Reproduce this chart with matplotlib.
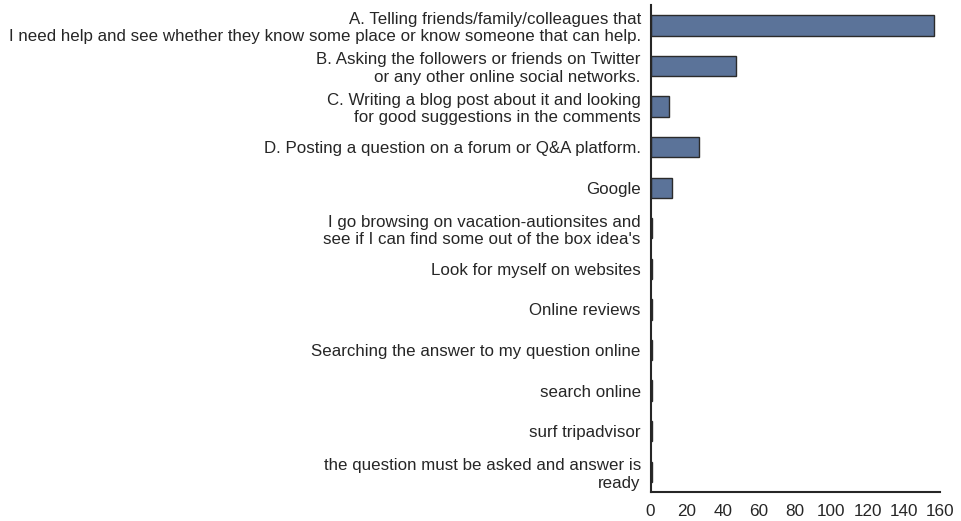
import matplotlib
matplotlib.use("Agg")
import matplotlib.pyplot as plt

categories = [
    "A. Telling friends/family/colleagues that\nI need help and see whether they know some place or know someone that can help.",
    "B. Asking the followers or friends on Twitter\nor any other online social networks.",
    "C. Writing a blog post about it and looking\nfor good suggestions in the comments",
    "D. Posting a question on a forum or Q&A platform.",
    "Google",
    "I go browsing on vacation-autionsites and\nsee if I can find some out of the box idea's",
    "Look for myself on websites",
    "Online reviews",
    "Searching the answer to my question online",
    "search online",
    "surf tripadvisor",
    "the question must be asked and answer is\nready",
]
values = [157, 47, 10, 27, 12, 1, 1, 1, 1, 1, 1, 1]
xticks = [0, 20, 40, 60, 80, 100, 120, 140, 160]

plt.rcParams['font.family'] = ['Liberation Sans', 'DejaVu Sans']
fig = plt.figure(figsize=(9.61, 5.21), dpi=100)
ax = fig.add_axes([0.677, 0.0557, 0.301, 0.9345])
ypos = list(range(len(categories)))
ax.barh(ypos, values, height=0.5, color="#5b7399", edgecolor="#2b2b2b", linewidth=1.0)
ax.set_ylim(len(categories) - 0.5, -0.5)
ax.set_xlim(0, 160)
ax.set_yticks(ypos)
ax.set_yticklabels(categories, fontsize=12.15, color="#262626", linespacing=1.2)
ax.set_xticks(xticks)
ax.set_xticklabels([str(t) for t in xticks], fontsize=12.3, color="#262626")
ax.tick_params(axis="y", length=0, pad=7)
ax.tick_params(axis="x", length=0, pad=9)
for s in ["top", "right"]:
    ax.spines[s].set_visible(False)
for s in ["left", "bottom"]:
    ax.spines[s].set_color("#262626")
    ax.spines[s].set_linewidth(1.5)
fig.savefig("out.png", dpi=100)
